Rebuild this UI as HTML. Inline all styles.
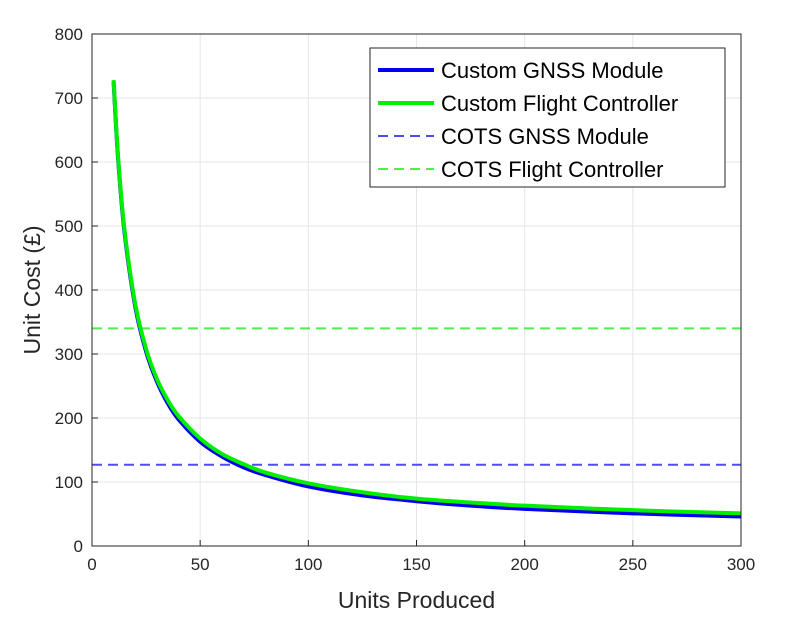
<!DOCTYPE html>
<html><head><meta charset="utf-8"><style>
body{margin:0;background:#fff;}
text{font-family:"Liberation Sans",sans-serif;}
</style></head><body>
<svg id="chart" width="799" height="625" xmlns="http://www.w3.org/2000/svg">
<rect width="799" height="625" fill="#fff"/>
<g id="grid"></g><g id="series"></g><g id="axes"></g><g id="legend"></g>
</svg>
<script>
const xs = [10,12,15,20,25,30,35,40,50,60,70,80,100,125,150,175,200,250,300];
const gnss = [725,608,491,374,304,257,223,198,163,140,123,111,93,79,70,63,58,51,46];
const fc = [728,611,495,378,308,261,228,203,168,144,128,115,98,84,74,68,63,56,51];
const cotsGnss = 127;
const cotsFc = 340;
const xTicks = [0,50,100,150,200,250,300];
const yTicks = [0,100,200,300,400,500,600,700,800];
const legendLabels = ["Custom GNSS Module","Custom Flight Controller","COTS GNSS Module","COTS Flight Controller"];

const L=92,R=741,T=34,B=546;
const sx=v=>L+(v-0)/(300-0)*(R-L);
const sy=v=>B-(v-0)/(800-0)*(B-T);
const NS="http://www.w3.org/2000/svg";
function mk(tag,attrs,parent){const e=document.createElementNS(NS,tag);for(const k in attrs)e.setAttribute(k,attrs[k]);parent.appendChild(e);return e;}
const grid=document.getElementById('grid'),axes=document.getElementById('axes'),series=document.getElementById('series'),legend=document.getElementById('legend');
mk('rect',{x:L,y:T,width:R-L,height:B-T,fill:'#fff'},grid);
xTicks.forEach(t=>{
  const g=mk('line',{x1:sx(t),x2:sx(t),y1:T,y2:B,stroke:'#e6e6e6','stroke-width':1},grid);
  
  mk('line',{x1:sx(t),x2:sx(t),y1:B,y2:B-6,stroke:'#262626'},axes);
  const tx=mk('text',{x:sx(t),y:B+24,'text-anchor':'middle','font-size':17,fill:'#262626'},axes);tx.textContent=t;
  
});
yTicks.forEach(t=>{
  const g=mk('line',{x1:L,x2:R,y1:sy(t),y2:sy(t),stroke:'#e6e6e6','stroke-width':1},grid);
  
  mk('line',{x1:L,x2:L+6,y1:sy(t),y2:sy(t),stroke:'#262626'},axes);
  const tx=mk('text',{x:L-9,y:sy(t)+6,'text-anchor':'end','font-size':17,fill:'#262626'},axes);tx.textContent=t;
  
});
const frame=mk('rect',{x:L,y:T,width:R-L,height:B-T,fill:'none',stroke:'#262626','stroke-width':1},axes);

const xl=mk('text',{x:(L+R)/2,y:608,'text-anchor':'middle','font-size':23,fill:'#262626'},axes);xl.textContent='Units Produced';

const yl=mk('text',{x:0,y:0,'text-anchor':'middle','font-size':23,fill:'#262626',transform:`translate(40,${(T+B)/2}) rotate(-90)`},axes);yl.textContent='Unit Cost (£)';


function smooth(xv,yv){
  const p=xv.map((x,i)=>[sx(x),sy(yv[i])]);
  let d=`M${p[0][0]},${p[0][1]}`;
  for(let i=0;i<p.length-1;i++){
    const p0=p[i-1]||p[i],p1=p[i],p2=p[i+1],p3=p[i+2]||p[i+1];
    d+=` C${p1[0]+(p2[0]-p0[0])/6},${p1[1]+(p2[1]-p0[1])/6} ${p2[0]-(p3[0]-p1[0])/6},${p2[1]-(p3[1]-p1[1])/6} ${p2[0]},${p2[1]}`;
  }
  return d;
}
const h1=mk('line',{x1:L,x2:R,y1:sy(cotsFc),y2:sy(cotsFc),stroke:'#4dee4d','stroke-width':2,'stroke-dasharray':'10,6'},series);

const h2=mk('line',{x1:L,x2:R,y1:sy(cotsGnss),y2:sy(cotsGnss),stroke:'#4d4dee','stroke-width':2,'stroke-dasharray':'10,6'},series);

const c1=mk('path',{d:smooth(xs,gnss),fill:'none',stroke:'#0000ee','stroke-width':4},series);

const c2=mk('path',{d:smooth(xs,fc),fill:'none',stroke:'#00ee00','stroke-width':4},series);


const lb=mk('rect',{x:370,y:48,width:355,height:139,fill:'#fff',stroke:'#262626','stroke-width':1},legend);

const styles=[['#0000ee',4,''],['#00ee00',4,''],['#4d4dee',2,'10,6'],['#4dee4d',2,'10,6']];
legendLabels.forEach((s,i)=>{
  const y=70+i*33;
  const ln=mk('line',{x1:378,x2:434,y1:y,y2:y,stroke:styles[i][0],'stroke-width':styles[i][1],'stroke-dasharray':styles[i][2]},legend);
  
  const t=mk('text',{x:441,y:y+8,'font-size':22,fill:'#000'},legend);t.textContent=s;
  
});
</script>
</body></html>
